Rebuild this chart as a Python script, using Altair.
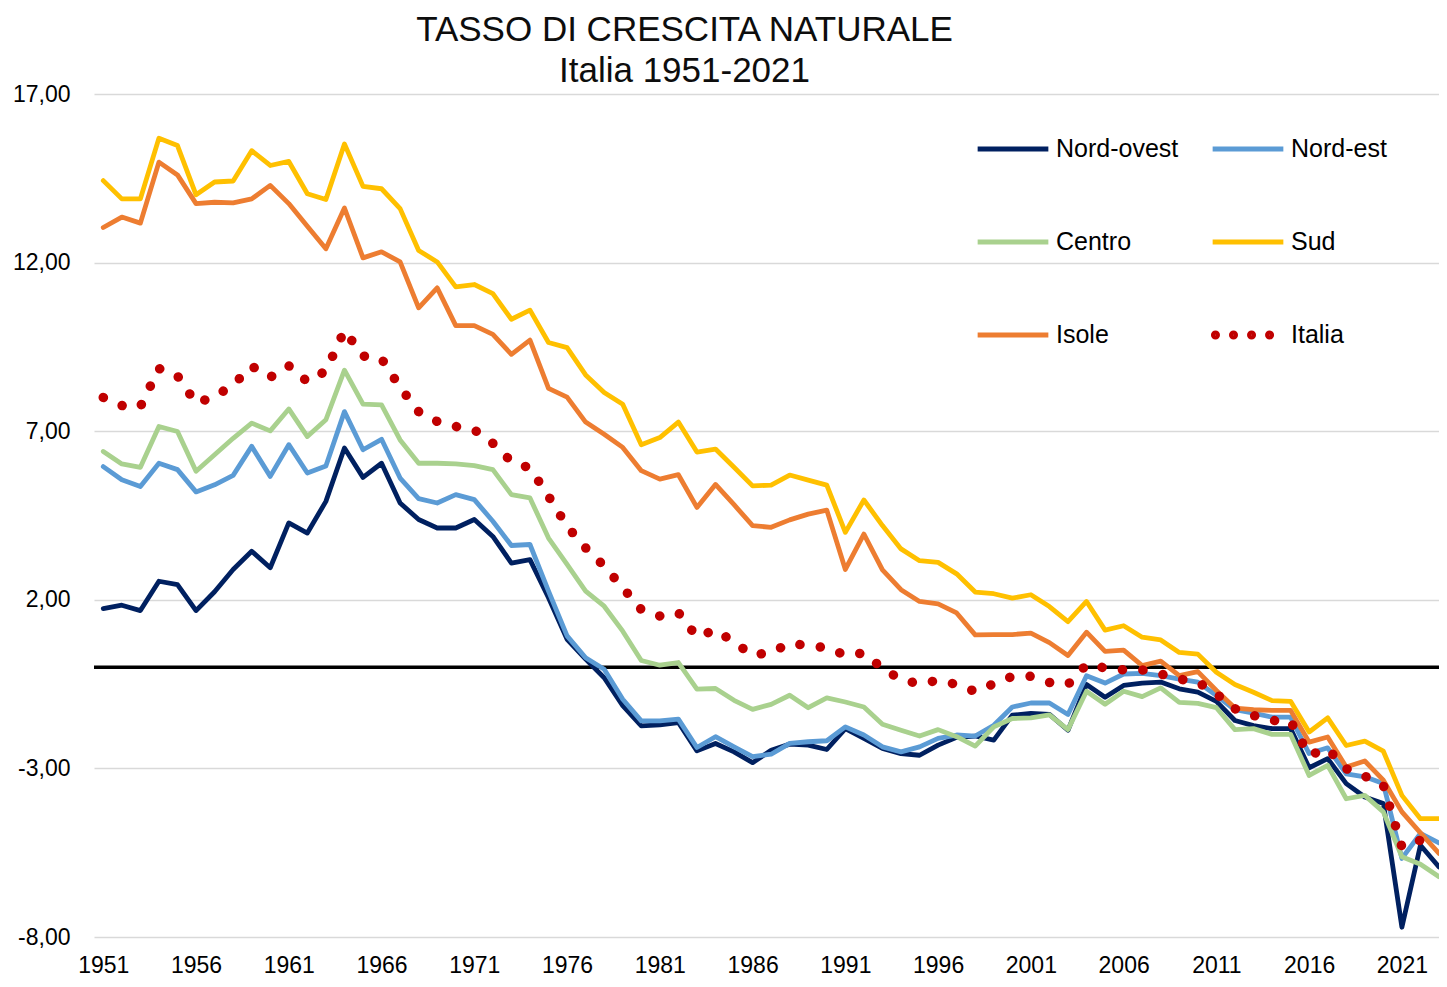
import altair as alt
import pandas as pd

years = list(range(1951, 2024))
tick_years = list(range(1951, 2022, 5))
y_ticks = [-8, -3, 2, 7, 12, 17]
zero_line = [0]

series_names = ["Nord-ovest", "Nord-est", "Centro", "Sud", "Isole", "Italia"]
colors = ["#002060", "#5B9BD5", "#A9D18E", "#FFC000", "#ED7D31", "#C00000"]

nord_ovest = [1.74, 1.84, 1.68, 2.55, 2.45, 1.68, 2.24, 2.90, 3.44, 2.95, 4.28, 3.98, 4.92, 6.50, 5.63, 6.05, 4.87,
              4.38, 4.13, 4.13, 4.38, 3.88, 3.09, 3.19, 2.06, 0.83, 0.24, -0.31, -1.14, -1.74, -1.71, -1.64, -2.48, -2.26,
              -2.51, -2.83, -2.46, -2.28, -2.31, -2.44, -1.82, -2.11, -2.41, -2.56, -2.61, -2.31, -2.08, -2.04, -2.16, -1.42, -1.37, -1.40, -1.87, -0.51,
              -0.89, -0.54, -0.47, -0.44, -0.64, -0.74, -1.01, -1.58, -1.73, -1.82, -1.82, -2.98, -2.71, -3.45, -3.85, -4.04, -7.71, -5.28, -5.92]
nord_est = [5.95, 5.56, 5.36, 6.05, 5.86, 5.20, 5.41, 5.69, 6.55, 5.66, 6.60, 5.76, 5.97, 7.58, 6.45, 6.76, 5.61,
            5.00, 4.87, 5.12, 4.97, 4.33, 3.61, 3.64, 2.26, 0.93, 0.28, -0.06, -0.95, -1.59, -1.59, -1.54, -2.38, -2.06,
            -2.36, -2.65, -2.58, -2.26, -2.21, -2.18, -1.77, -2.01, -2.36, -2.51, -2.36, -2.11, -2.01, -2.04, -1.72, -1.18, -1.06, -1.06, -1.40, -0.25,
            -0.47, -0.20, -0.18, -0.25, -0.35, -0.44, -0.84, -1.26, -1.36, -1.48, -1.48, -2.56, -2.39, -3.16, -3.25, -3.45, -5.67, -4.93, -5.21]
centro = [6.40, 6.03, 5.93, 7.14, 6.99, 5.81, 6.30, 6.79, 7.24, 7.01, 7.66, 6.84, 7.34, 8.81, 7.80, 7.78, 6.74,
          6.05, 6.05, 6.03, 5.98, 5.86, 5.12, 5.02, 3.83, 3.05, 2.26, 1.81, 1.07, 0.20, 0.06, 0.14, -0.65, -0.63,
          -0.98, -1.25, -1.10, -0.83, -1.20, -0.91, -1.03, -1.18, -1.69, -1.87, -2.04, -1.85, -2.06, -2.34, -1.77, -1.52, -1.50, -1.41, -1.85, -0.71,
          -1.10, -0.71, -0.87, -0.61, -1.04, -1.07, -1.20, -1.85, -1.82, -1.99, -1.99, -3.21, -2.91, -3.90, -3.80, -4.29, -5.62, -5.84, -6.21]
sud = [14.43, 13.89, 13.89, 15.69, 15.47, 14.01, 14.39, 14.42, 15.32, 14.88, 15.00, 14.04, 13.87, 15.52, 14.26, 14.19, 13.60,
       12.36, 12.02, 11.28, 11.35, 11.08, 10.32, 10.59, 9.63, 9.48, 8.67, 8.15, 7.80, 6.60, 6.81, 7.27, 6.38, 6.47,
       5.93, 5.38, 5.40, 5.70, 5.55, 5.40, 4.00, 4.96, 4.20, 3.51, 3.16, 3.11, 2.77, 2.23, 2.18, 2.05, 2.15, 1.80, 1.35, 1.95,
       1.10, 1.23, 0.89, 0.81, 0.44, 0.39, -0.15, -0.51, -0.74, -0.99, -1.01, -1.92, -1.50, -2.32, -2.19, -2.49, -3.80, -4.49, -4.49]
isole = [13.04, 13.35, 13.17, 14.98, 14.60, 13.75, 13.79, 13.77, 13.89, 14.29, 13.75, 13.08, 12.41, 13.62, 12.14, 12.32, 12.02,
         10.66, 11.25, 10.13, 10.13, 9.87, 9.28, 9.70, 8.27, 8.01, 7.27, 6.91, 6.52, 5.83, 5.58, 5.71, 4.74, 5.42,
         4.82, 4.20, 4.15, 4.37, 4.54, 4.66, 2.90, 3.95, 2.89, 2.30, 1.95, 1.88, 1.61, 0.96, 0.97, 0.97, 1.01, 0.73, 0.35, 1.04,
         0.47, 0.51, 0.05, 0.18, -0.25, -0.13, -0.69, -1.21, -1.26, -1.28, -1.28, -2.22, -2.07, -2.96, -2.78, -3.35, -4.29, -4.91, -5.52]
italia = [8.00, 7.76, 7.73, 8.86, 8.64, 7.83, 8.03, 8.37, 8.93, 8.60, 8.94, 8.47, 8.79, 9.99, 9.23, 9.15, 8.30,
          7.58, 7.29, 7.14, 7.04, 6.64, 6.10, 5.91, 5.07, 4.18, 3.54, 3.00, 2.36, 1.71, 1.52, 1.62, 0.90, 1.11,
          0.74, 0.36, 0.44, 0.71, 0.64, 0.58, 0.36, 0.42, -0.03, -0.37, -0.49, -0.39, -0.51, -0.72, -0.49, -0.27, -0.27, -0.45, -0.51, 0.08,
          -0.02, -0.08, -0.08, -0.20, -0.35, -0.44, -0.79, -1.23, -1.43, -1.58, -1.60, -2.61, -2.42, -3.01, -3.23, -3.50, -5.33, -5.13, -5.30]

all_values = [nord_ovest, nord_est, centro, sud, isole, italia]

rows = []
for name, vals in zip(series_names, all_values):
    assert len(vals) == len(years), (name, len(vals))
    for yr, v in zip(years, vals):
        rows.append({"anno": yr, "valore": v, "serie": name})
df = pd.DataFrame(rows)
zero_df = pd.DataFrame({"valore": zero_line})

FONT = "Liberation Sans"

x_scale = alt.Scale(domain=[1950.5, 2023], nice=False, zero=False)
y_scale = alt.Scale(domain=[-8, 17], nice=False, zero=False)

# legend symbols: a line for the regions, four dots for Italia
rho = 0.06
dot_path = " ".join(
    f"M{cx - rho:.3f},0 A{rho},{rho} 0 1,0 {cx + rho:.3f},0 A{rho},{rho} 0 1,0 {cx - rho:.3f},0 Z"
    for cx in [-0.92, -0.41, 0.10, 0.61]
)
color_of = dict(zip(series_names, colors))
shape_of = {n: ("stroke" if n != "Italia" else dot_path) for n in series_names}

# the legend grid is filled column by column: order entries so rows read
# Nord-ovest | Nord-est ; Centro | Sud ; Isole | Italia
legend_order = ["Nord-ovest", "Centro", "Isole", "Nord-est", "Sud", "Italia"]
color_scale = alt.Scale(domain=legend_order, range=[color_of[n] for n in legend_order])
shape_scale = alt.Scale(domain=legend_order, range=[shape_of[n] for n in legend_order])

x_enc = alt.X(
    "anno:Q", scale=x_scale,
    axis=alt.Axis(values=tick_years, format="d", title=None, grid=False, domain=False, ticks=False,
                  labelFontSize=23, labelFont=FONT, labelColor="#000000", labelPadding=17,
                  labelFlush=False, labelOverlap=False),
)
y_enc = alt.Y(
    "valore:Q", scale=y_scale,
    axis=alt.Axis(values=y_ticks, title=None, domain=False, ticks=False,
                  labelExpr="(datum.value < 0 ? '-' : '') + replace(format(abs(datum.value), '.2f'), '.', ',')",
                  labelFontSize=23, labelFont=FONT, labelColor="#000000", labelPadding=24,
                  gridColor="#d9d9d9", gridWidth=1.5),
)

base = alt.Chart(df)

zero_rule = alt.Chart(zero_df).mark_rule(color="#000000", strokeWidth=3.5).encode(
    y=alt.Y("valore:Q", scale=y_scale)
)

layers = []
for name, col in zip(series_names[:5], colors[:5]):
    layers.append(
        base.transform_filter(alt.datum.serie == name)
        .mark_line(strokeWidth=4.8, strokeJoin="round", strokeCap="round", color=col)
        .encode(x=x_enc, y=y_enc)
    )

italia_line = (
    base.transform_filter(alt.datum.serie == "Italia")
    .mark_line(strokeWidth=9.5, strokeDash=[0.1, 20.4], strokeCap="round", color=colors[5])
    .encode(x=x_enc, y=y_enc)
)

legend_props = dict(
    title=None, orient="none", legendX=881, legendY=17, columns=2, columnPadding=24, rowPadding=42,
    symbolSize=5000, symbolStrokeWidth=4.8, symbolOpacity=1, labelFontSize=25, labelFont=FONT,
    labelColor="#000000", labelOffset=5, symbolOffset=0, padding=0, labelLimit=400,
)
legend_layer = (
    base.mark_point(filled=False, opacity=0, strokeWidth=4.8)
    .encode(
        x=x_enc, y=y_enc,
        color=alt.Color("serie:N", scale=color_scale, legend=alt.Legend(**legend_props)),
        shape=alt.Shape("serie:N", scale=shape_scale, legend=alt.Legend(**legend_props)),
    )
)

chart = (
    alt.layer(zero_rule, *layers, italia_line, legend_layer)
    .properties(
        width=1345, height=843,
        autosize=alt.AutoSizeParams(type="none"),
        padding={"left": 86, "top": 86, "right": 0, "bottom": 41},
        background="#ffffff",
        title=alt.TitleParams(
            ["TASSO DI CRESCITA NATURALE", "Italia 1951-2021"],
            fontSize=35, font=FONT, fontWeight="normal", color="#0d0d0d",
            anchor="middle", dx=-82, dy=11, offset=5, lineHeight=41,
        ),
    )
    .configure_view(stroke=None)
)

chart.save("out.html", embed_options={"renderer": "svg", "actions": False})
